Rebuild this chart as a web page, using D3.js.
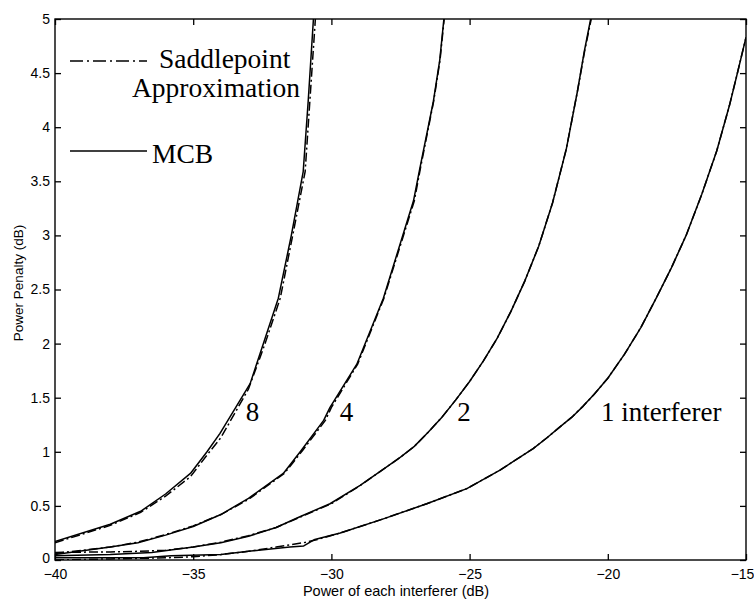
<!DOCTYPE html>
<html>
<head>
<meta charset="utf-8">
<script src="https://cdn.jsdelivr.net/npm/d3@7"></script>
<style>
  html, body { margin: 0; padding: 0; background: #fff; }
  svg { display: block; }
  .tick text { font-family: "Liberation Sans", Arial, Helvetica, sans-serif; font-size: 14px; fill: #000; }
  .serif { font-family: "Liberation Serif", "Times New Roman", Times, serif; fill: #000; }
  .sans { font-family: "Liberation Sans", Arial, Helvetica, sans-serif; fill: #000; }
</style>
</head>
<body>
<svg id="chart" width="754" height="601"></svg>
<script>
// Power penalty versus power of each interferer, for 1, 2, 4 and 8 interferers.
// Each series: [interferer power (dB), power penalty (dB)]

// Monte Carlo bound (solid)
const mcb8 = [[-40,0.17],[-38,0.33],[-36.9,0.45],[-36,0.61],[-35.1,0.80],[-34.5,1.0],[-34.03,1.17],
  [-32.94,1.63],[-32.46,2.0],[-31.92,2.42],[-31.45,3.0],[-31.02,3.59],[-30.84,4.24],[-30.65,5.0]];
const mcb4 = [[-40,0.05],[-38,0.12],[-37,0.16],[-36,0.23],[-35,0.31],[-34,0.42],[-33,0.57],
  [-31.74,0.80],[-31.1,1.01],[-30.28,1.29],[-30.05,1.41],[-29.08,1.81],[-28.12,2.42],[-27.03,3.32],
  [-26.8,3.62],[-26.31,4.24],[-26.08,4.62],[-25.93,5.0]];
const mcb2 = [[-40,0.04],[-38,0.05],[-36.5,0.07],[-35,0.12],[-34,0.16],[-33,0.22],[-32,0.30],
  [-31.14,0.40],[-30.05,0.52],[-28.96,0.69],[-28,0.86],[-27.5,0.95],[-27,1.05],[-26.5,1.18],
  [-26,1.32],[-25.5,1.48],[-25,1.65],[-24.5,1.84],[-24,2.05],[-23.5,2.30],[-23,2.58],[-22.5,2.90],
  [-22,3.30],[-21.5,3.80],[-21.1,4.33],[-20.85,4.70],[-20.62,5.0]];
const mcb1 = [[-40,0.02],[-36.8,0.02],[-35.8,0.04],[-34,0.05],[-33,0.08],[-31.5,0.12],[-31,0.13],
  [-30.6,0.19],[-29.68,0.25],[-28.12,0.38],[-26.55,0.52],[-25.1,0.66],[-23.9,0.83],[-22.7,1.03],
  [-22.2,1.13],[-21.73,1.23],[-21.3,1.32],[-20.9,1.42],[-20.5,1.53],[-20,1.68],[-19.4,1.90],
  [-18.8,2.15],[-18.23,2.43],[-17.7,2.70],[-17.15,3.01],[-16.6,3.38],[-16.06,3.78],[-15.6,4.20],
  [-15.34,4.47],[-15,4.83]];

// Saddlepoint approximation (dash-dot)
const sp8 = [[-40,0.16],[-38,0.32],[-36.9,0.44],[-36,0.59],[-35.1,0.77],[-34.5,0.97],[-34,1.13],
  [-33,1.58],[-32.4,2.0],[-31.85,2.42],[-31.4,3.0],[-30.95,3.59],[-30.78,4.24],[-30.58,5.0]];
const sp4 = [[-40,0.06],[-38,0.12],[-37,0.165],[-36,0.235],[-35,0.315],[-34,0.42],[-33,0.56],
  [-31.7,0.80],[-31.05,1.01],[-30.22,1.29],[-30,1.41],[-29.05,1.81],[-28.1,2.42],[-27.0,3.32],
  [-26.78,3.62],[-26.3,4.24],[-26.07,4.62],[-25.92,5.0]];
const sp2 = [[-40,0.07],[-38,0.075],[-37,0.08],[-36,0.09],[-35,0.12],[-34,0.165],[-33,0.225],
  [-32,0.30],[-31.1,0.40],[-30,0.52],[-28.95,0.69],[-28,0.86],[-27.5,0.95],[-27,1.05],[-26.5,1.18],
  [-26,1.32],[-25.5,1.48],[-25,1.65],[-24.5,1.84],[-24,2.05],[-23.5,2.30],[-23,2.58],[-22.5,2.90],
  [-22,3.30],[-21.5,3.80],[-21.1,4.33],[-20.84,4.70],[-20.6,5.0]];
const sp1 = [[-40,0.0],[-38,0.01],[-36,0.02],[-35,0.03],[-34,0.05],[-33,0.08],[-32,0.12],
  [-31,0.16],[-30.5,0.19],[-29.68,0.25],[-28.12,0.38],[-26.55,0.52],[-25.1,0.66],[-23.9,0.83],
  [-22.7,1.03],[-22.2,1.13],[-21.73,1.23],[-21.3,1.32],[-20.9,1.42],[-20.5,1.53],[-20,1.68],
  [-19.4,1.90],[-18.8,2.15],[-18.23,2.43],[-17.7,2.70],[-17.15,3.01],[-16.6,3.38],[-16.06,3.78],
  [-15.6,4.20],[-15.34,4.47],[-15,4.83]];

const xTicks = [-40, -35, -30, -25, -20, -15];
const yTicks = [0, 0.5, 1, 1.5, 2, 2.5, 3, 3.5, 4, 4.5, 5];

const curveLabels = [
  { text: "8", at: [-33.1, 1.285] },
  { text: "4", at: [-29.7, 1.285] },
  { text: "2", at: [-25.45, 1.285] },
  { text: "1 interferer", at: [-20.25, 1.285] }
];

const svg = d3.select("#chart");
const plotL = 55, plotR = 746, plotT = 19, plotB = 560;
const x = d3.scaleLinear().domain([-40, -15]).range([plotL, plotR]);
const y = d3.scaleLinear().domain([0, 5]).range([plotB, plotT]);

svg.append("clipPath").attr("id", "clip")
  .append("rect").attr("x", plotL).attr("y", plotT).attr("width", plotR - plotL).attr("height", plotB - plotT);

const line = d3.line().x(d => x(d[0])).y(d => y(d[1]));

const curves = svg.append("g").attr("clip-path", "url(#clip)");
[mcb8, mcb4, mcb2, mcb1].forEach(s => {
  curves.append("path").attr("d", line(s)).attr("fill", "none")
    .attr("stroke", "#000").attr("stroke-width", 1.5).attr("stroke-linejoin", "round");
});
[sp8, sp4, sp2, sp1].forEach(s => {
  curves.append("path").attr("d", line(s)).attr("fill", "none")
    .attr("stroke", "#000").attr("stroke-width", 1.5)
    .attr("stroke-dasharray", "9,3,2,3");
});

// Axes: ticks point inward on all four sides
const fmt = d => String(d).replace("-", "\u2212");
const axB = d3.axisBottom(x).tickValues(xTicks).tickFormat(fmt).tickSizeInner(-6).tickSizeOuter(0).tickPadding(9);
const axT = d3.axisTop(x).tickValues(xTicks).tickFormat("").tickSizeInner(-6).tickSizeOuter(0);
const axL = d3.axisLeft(y).tickValues(yTicks).tickFormat(fmt).tickSizeInner(-6).tickSizeOuter(0).tickPadding(5);
const axR = d3.axisRight(y).tickValues(yTicks).tickFormat("").tickSizeInner(-6).tickSizeOuter(0);

function styleAxis(g) {
  g.select(".domain").remove();
  g.selectAll(".tick line").attr("stroke", "#000").attr("stroke-width", 1.3);
}
const gB = svg.append("g").attr("transform", `translate(0,${plotB})`).call(axB).call(styleAxis);
// keep the last bottom label inside the page edge
gB.selectAll(".tick").filter(d => d === xTicks[xTicks.length - 1]).select("text").attr("dx", -4);
svg.append("g").attr("transform", `translate(0,${plotT})`).call(axT).call(styleAxis);
const gL = svg.append("g").attr("transform", `translate(${plotL},0)`).call(axL).call(styleAxis);
// lift the "0" label a little so it clears the bottom labels
gL.selectAll(".tick").filter(d => d === 0).select("text").attr("dy", "0.15em");
svg.append("g").attr("transform", `translate(${plotR},0)`).call(axR).call(styleAxis);

svg.append("rect").attr("x", plotL).attr("y", plotT).attr("width", plotR - plotL).attr("height", plotB - plotT)
  .attr("fill", "none").attr("stroke", "#000").attr("stroke-width", 1.4);

// Axis titles
svg.append("text").attr("class", "sans").attr("x", 396).attr("y", 596)
  .attr("text-anchor", "middle").attr("font-size", 14.5).text("Power of each interferer (dB)");
svg.append("text").attr("class", "sans").attr("transform", "translate(23,283) rotate(-90)")
  .attr("text-anchor", "middle").attr("font-size", 13.5).text("Power Penalty (dB)");

// Curve labels
curveLabels.forEach(l => {
  svg.append("text").attr("class", "serif").attr("x", x(l.at[0])).attr("y", y(l.at[1]))
    .attr("font-size", 27).text(l.text);
});

// Legend
const lg = svg.append("g");
lg.append("line").attr("x1", 70).attr("x2", 147).attr("y1", 61).attr("y2", 61)
  .attr("stroke", "#000").attr("stroke-width", 1.7).attr("stroke-dasharray", "13,4,2,4");
lg.append("text").attr("class", "serif").attr("x", 159).attr("y", 68).attr("font-size", 27.5).text("Saddlepoint");
lg.append("text").attr("class", "serif").attr("x", 132).attr("y", 97).attr("font-size", 27.5).text("Approximation");
lg.append("line").attr("x1", 70).attr("x2", 147).attr("y1", 151).attr("y2", 151)
  .attr("stroke", "#000").attr("stroke-width", 1.7);
lg.append("text").attr("class", "serif").attr("x", 152).attr("y", 163).attr("font-size", 27.5).text("MCB");
</script>
</body>
</html>
